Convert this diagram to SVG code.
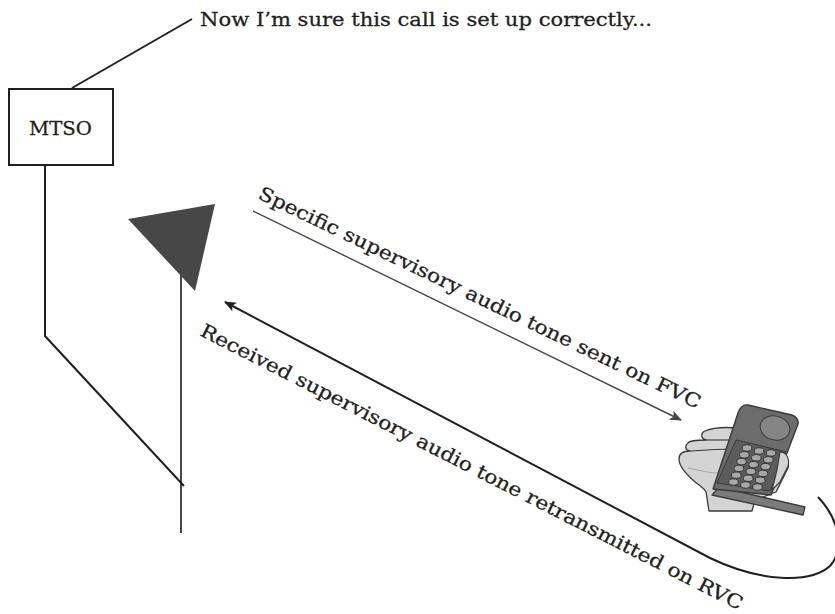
<svg xmlns="http://www.w3.org/2000/svg" width="835" height="614" viewBox="0 0 835 614">
  <style>
    .lbl { font-family: "DejaVu Serif", "Liberation Serif", serif; fill: #231f20; stroke: #231f20; stroke-width: 0.3; }
    .wire { fill: none; stroke: #231f20; stroke-width: 2; }
    .mast { fill: none; stroke: #474747; stroke-width: 2; }
  </style>
  <defs>
    <marker id="headGray" viewBox="0 0 12 10" refX="11" refY="5" markerWidth="12" markerHeight="10" markerUnits="userSpaceOnUse" orient="auto">
      <path d="M0,0 L12,5 L0,10 L3,5 Z" fill="#474747"/>
    </marker>
    <marker id="headBlack" viewBox="0 0 12 10" refX="11" refY="5" markerWidth="12" markerHeight="10" markerUnits="userSpaceOnUse" orient="auto-start-reverse">
      <path d="M0,0 L12,5 L0,10 L3,5 Z" fill="#231f20"/>
    </marker>
    <path id="fvcPath" d="M257,198 L699,410"/>
    <path id="rvcPath" d="M199,335 L740,611"/>
  </defs>

  <rect width="835" height="614" fill="#ffffff"/>

  <!-- mobile switching office -->
  <g id="mtso">
    <rect x="9" y="89" width="104" height="76" fill="#ffffff" stroke="#231f20" stroke-width="2"/>
    <text class="lbl" x="29" y="135" font-size="19" textLength="63" lengthAdjust="spacingAndGlyphs">MTSO</text>
  </g>

  <!-- remark attached to the switching office -->
  <g id="remark">
    <text class="lbl" x="200" y="26" font-size="19" textLength="452" lengthAdjust="spacingAndGlyphs">Now I’m sure this call is set up correctly...</text>
  </g>

  <!-- cell site antenna -->
  <g id="antenna">
    <line class="mast" x1="181" y1="272" x2="181" y2="533"/>
    <polygon points="128,219 215,204 195,291" fill="#474747"/>
  </g>

  <!-- hand-held mobile unit -->
  <g id="mobile" stroke="#3a3a3a" stroke-linejoin="round">
    <!-- hand behind the handset, fingers curled round the left edge -->
    <path d="M738,428 C726,427 712,428 705,431 C700,433 701,439 706,440 C698,440 690,440 688,443 C684,446 686,451 690,451 C684,451 679,453 679,459 C679,466 686,474 694,481 C700,486 705,489 706,492 L709,511 L752,511 L755,500 L776,492 L788,468 C790,460 784,455 775,455 L745,445 Z" fill="#d4d4d4" stroke-width="1.3"/>
    <path d="M706,440 C716,440 726,440 736,440" fill="none" stroke-width="1.1"/>
    <path d="M690,451 C704,450 718,449 733,449" fill="none" stroke-width="1.1"/>
    <path d="M688,468 C698,470 712,474 724,473" fill="none" stroke="#9a9a9a" stroke-width="0.8"/>
    <!-- flip -->
    <polygon points="719,487 805,507 803,515 712,495" fill="#7a7a7a" stroke-width="1.3"/>
    <!-- body -->
    <path d="M748,405 L792,415 Q799,418 798,424 L771,495 L713,489 L738,413 Q741,404 748,405 Z" fill="#6c6c6c" stroke-width="1.4"/>
    <!-- earpiece -->
    <ellipse cx="775" cy="428" rx="15" ry="12" transform="rotate(15 775 428)" fill="#858585" stroke-width="1"/>
    <!-- keypad panel -->
    <path d="M736,440 L787,452 L770,491 L717,483 Z" fill="#5c5c5c" stroke-width="1"/>
    <g fill="#a8a8a8" stroke="#2e2e2e" stroke-width="0.9">
      <ellipse cx="747" cy="448" rx="4.8" ry="3.2"/>
      <ellipse cx="759" cy="451" rx="4.8" ry="3.2"/>
      <ellipse cx="771" cy="453" rx="4.8" ry="3.2"/>
      <ellipse cx="744.3" cy="454.8" rx="4.8" ry="3.2"/>
      <ellipse cx="756.3" cy="457.8" rx="4.8" ry="3.2"/>
      <ellipse cx="768.3" cy="459.8" rx="4.8" ry="3.2"/>
      <ellipse cx="741.6" cy="461.6" rx="4.8" ry="3.2"/>
      <ellipse cx="753.6" cy="464.6" rx="4.8" ry="3.2"/>
      <ellipse cx="765.6" cy="466.6" rx="4.8" ry="3.2"/>
      <ellipse cx="738.9" cy="468.4" rx="4.8" ry="3.2"/>
      <ellipse cx="750.9" cy="471.4" rx="4.8" ry="3.2"/>
      <ellipse cx="762.9" cy="473.4" rx="4.8" ry="3.2"/>
      <ellipse cx="736.2" cy="475.2" rx="4.8" ry="3.2"/>
      <ellipse cx="748.2" cy="478.2" rx="4.8" ry="3.2"/>
      <ellipse cx="760.2" cy="480.2" rx="4.8" ry="3.2"/>
      <ellipse cx="733.5" cy="482" rx="4.8" ry="3.2"/>
      <ellipse cx="745.5" cy="485" rx="4.8" ry="3.2"/>
      <ellipse cx="757.5" cy="487" rx="4.8" ry="3.2"/>
    </g>
    <!-- thumb over the right edge -->
    <path d="M780,452 C786,452 790,458 788,466 L780,482 L772,490 L777,470 Z" fill="#d4d4d4" stroke-width="1.1"/>
  </g>

  <!-- connectors -->
  <g id="connectors">
    <polyline class="wire" points="72,88 192,19"/>
    <polyline class="wire" points="45,165 45,336 184,486"/>
    <line x1="253" y1="211" x2="681" y2="420" stroke="#474747" stroke-width="1.4" marker-end="url(#headGray)"/>
    <path d="M818,497 C838,518 846,548 830,566 C810,584 760,582 710,558 L225,302" fill="none" stroke="#231f20" stroke-width="2" marker-end="url(#headBlack)"/>
  </g>

  <!-- channel labels -->
  <g id="labels">
    <text class="lbl" font-size="19"><textPath href="#fvcPath" textLength="488" lengthAdjust="spacingAndGlyphs">Specific supervisory audio tone sent on FVC</textPath></text>
    <text class="lbl" font-size="19"><textPath href="#rvcPath" textLength="606" lengthAdjust="spacingAndGlyphs">Received supervisory audio tone retransmitted on RVC</textPath></text>
  </g>
</svg>
